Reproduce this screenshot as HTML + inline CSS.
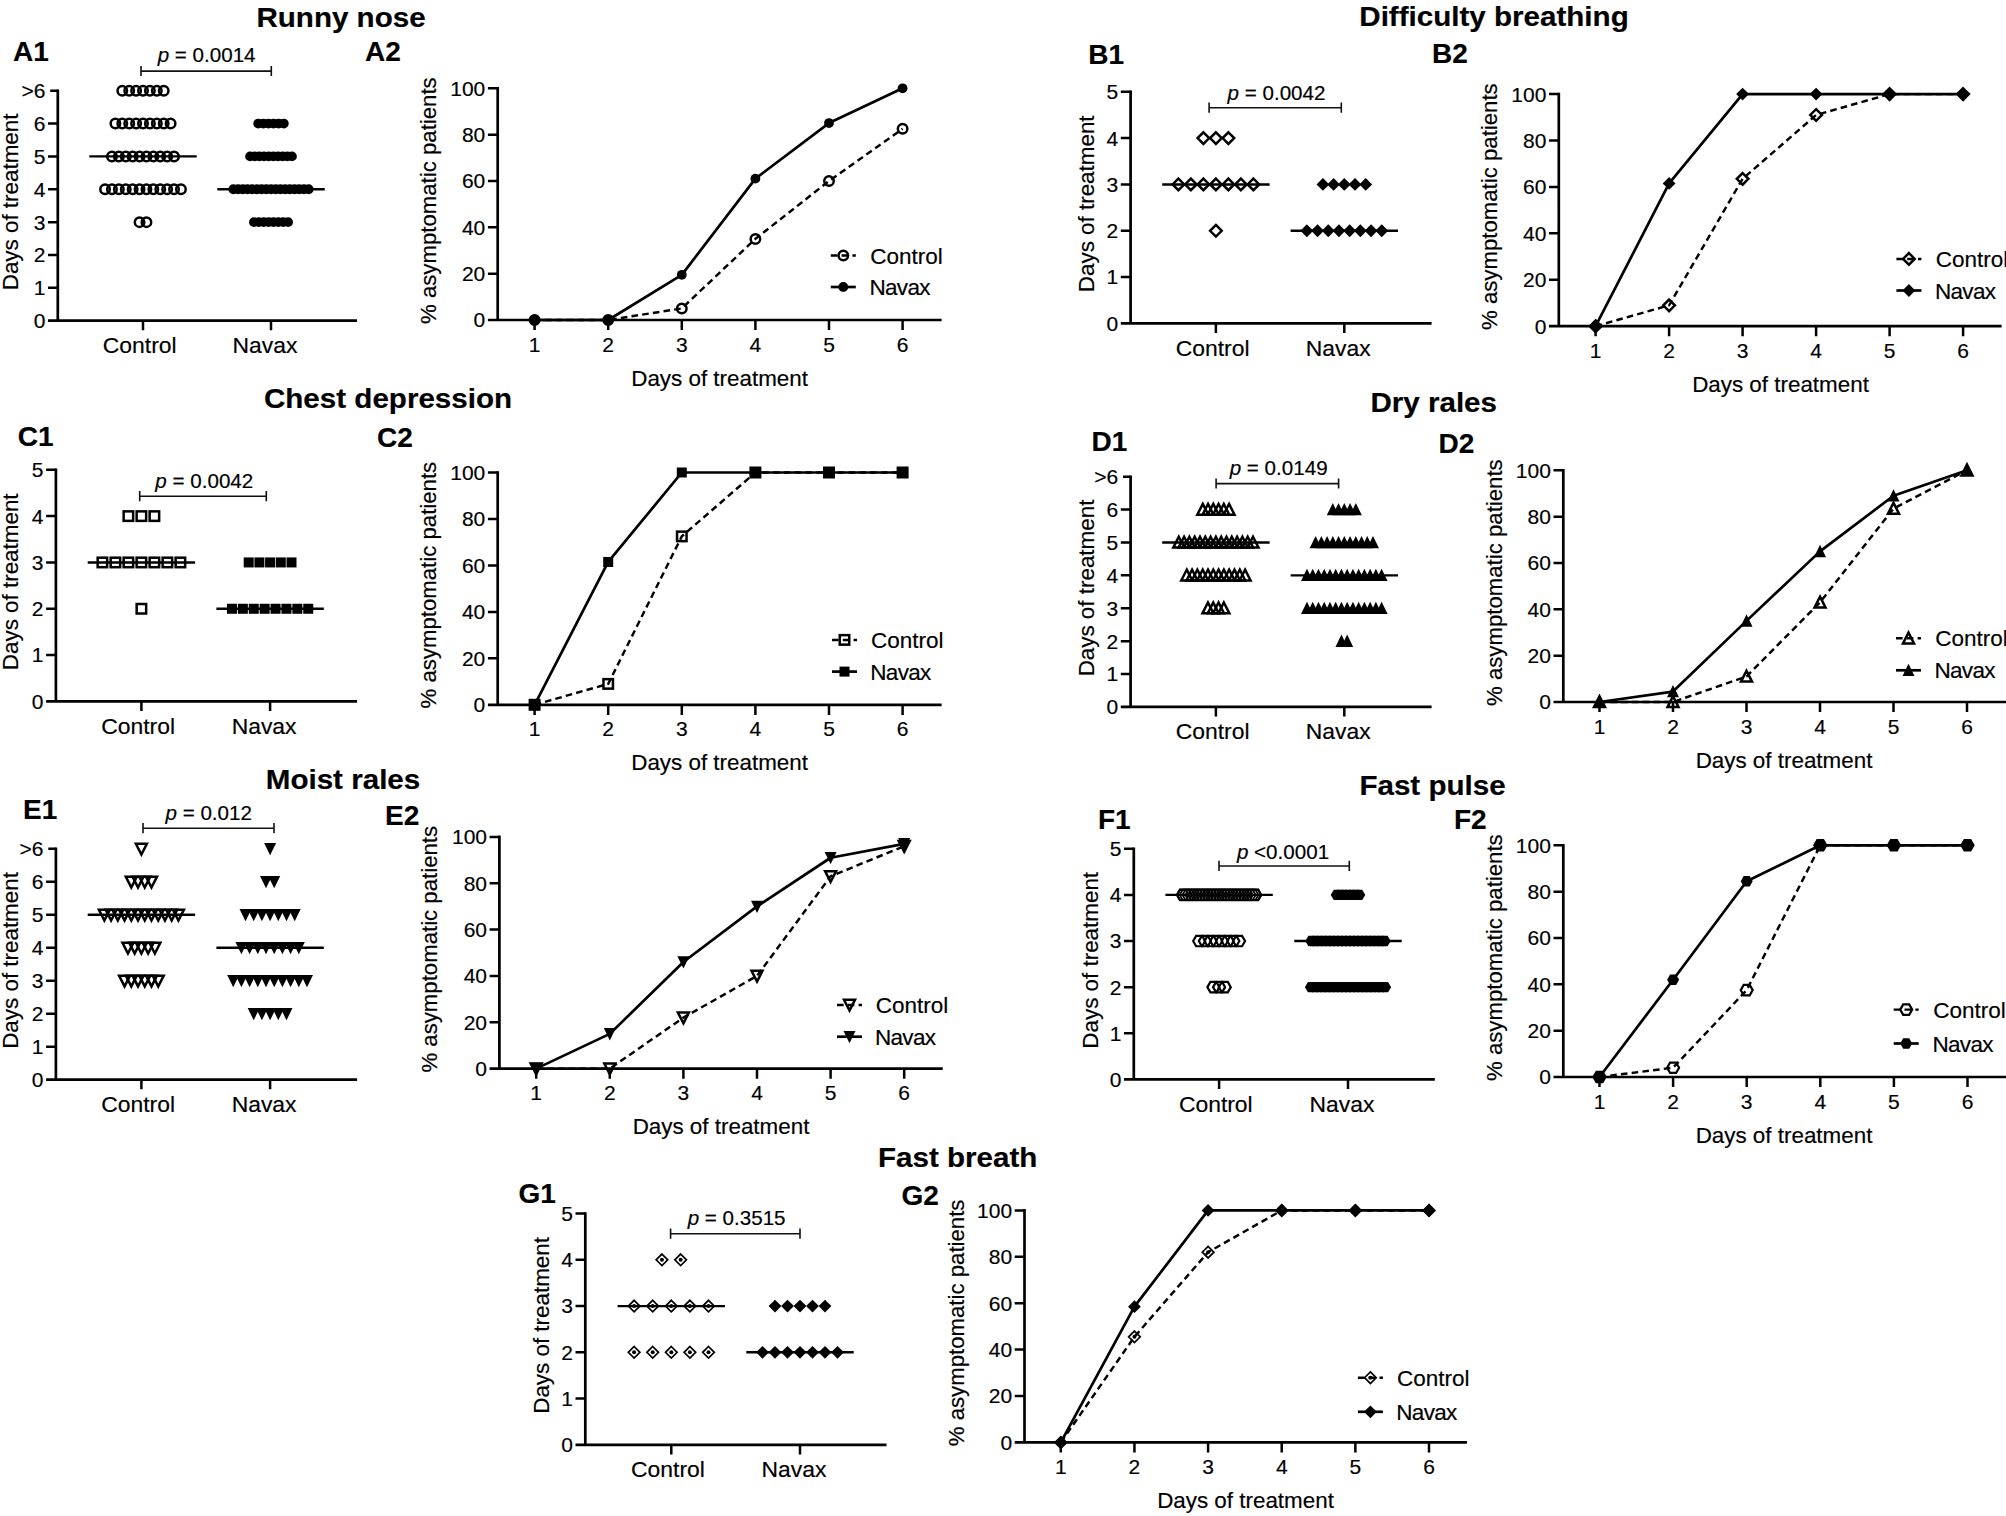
<!DOCTYPE html>
<html lang="en"><head><meta charset="utf-8"><title>Figure</title>
<style>
html,body{margin:0;padding:0;background:#fff}
body{width:2006px;height:1516px;overflow:hidden}
svg{display:block}
text{font-family:"Liberation Sans",sans-serif;fill:#000;stroke:#000;stroke-width:0.18px}
.tk{font-size:21px}
.lb{font-size:22.5px}
.cl{font-size:22.9px}
.at{font-size:22.4px}
.at2{font-size:22.2px}
.pv{font-size:20.6px}
.pl{font-size:28px;font-weight:bold}
.tt{font-size:28.5px;font-weight:bold}
.ax{stroke:#000;stroke-width:2.7;fill:none}
.tick{stroke:#000;stroke-width:2.5;fill:none}
.med{stroke:#000;stroke-width:2.4;fill:none}
.br{stroke:#111;stroke-width:1.6;fill:none}
.hm{fill:none;stroke:#000;stroke-width:2.5;stroke-miterlimit:10}
.hx{fill:none;stroke:#000;stroke-width:2.2;stroke-miterlimit:10}
.hx2{fill:none;stroke:#000;stroke-width:1.8;stroke-miterlimit:10}
.tm{fill:none;stroke:#000;stroke-width:1.7;stroke-miterlimit:10}
.fm{fill:#000;stroke:none}
.sl{fill:none;stroke:#000;stroke-width:2.7;stroke-linejoin:round}
.dl{fill:none;stroke:#000;stroke-width:2.45;stroke-dasharray:6.6 4.2}
</style></head>
<body>
<svg width="2006" height="1516" viewBox="0 0 2006 1516">
<rect width="2006" height="1516" fill="#fff"/>
<text class="tt" text-anchor="middle" transform="translate(341 27) scale(1.038 1)">Runny nose</text>
<g><path class="ax" d="M57.8 89.4V322 M48 320.7H357"/>
<text class="tk" text-anchor="end" x="45.4" y="328.1">0</text>
<text class="tk" text-anchor="end" x="45.4" y="295.24">1</text>
<text class="tk" text-anchor="end" x="45.4" y="262.39">2</text>
<text class="tk" text-anchor="end" x="45.4" y="229.53">3</text>
<text class="tk" text-anchor="end" x="45.4" y="196.67">4</text>
<text class="tk" text-anchor="end" x="45.4" y="163.81">5</text>
<text class="tk" text-anchor="end" x="45.4" y="130.96">6</text>
<text class="tk" text-anchor="end" x="45.4" y="98.1">&gt;6</text>
<path class="tick" d="M48 287.84H57.8M48 254.99H57.8M48 222.13H57.8M48 189.27H57.8M48 156.41H57.8M48 123.56H57.8M50.2 90.7H57.8"/>
<path class="tick" d="M143 320.7V330.3 M271 320.7V330.3"/>
<text class="cl" text-anchor="middle" x="139.7" y="352.8">Control</text>
<text class="cl" text-anchor="middle" x="265" y="352.8">Navax</text>
<text class="at" text-anchor="middle" transform="translate(18.3 201.9) rotate(-90)">Days of treatment</text>
<path class="med" d="M89.3 156.41H196.7"/>
<path class="med" d="M217.3 189.27H324.7"/>
<circle cx="122.3" cy="90.7" r="4.75" class="hm"/>
<circle cx="129.2" cy="90.7" r="4.75" class="hm"/>
<circle cx="136.1" cy="90.7" r="4.75" class="hm"/>
<circle cx="143" cy="90.7" r="4.75" class="hm"/>
<circle cx="149.9" cy="90.7" r="4.75" class="hm"/>
<circle cx="156.8" cy="90.7" r="4.75" class="hm"/>
<circle cx="163.7" cy="90.7" r="4.75" class="hm"/>
<circle cx="115.4" cy="123.56" r="4.75" class="hm"/>
<circle cx="122.3" cy="123.56" r="4.75" class="hm"/>
<circle cx="129.2" cy="123.56" r="4.75" class="hm"/>
<circle cx="136.1" cy="123.56" r="4.75" class="hm"/>
<circle cx="143" cy="123.56" r="4.75" class="hm"/>
<circle cx="149.9" cy="123.56" r="4.75" class="hm"/>
<circle cx="156.8" cy="123.56" r="4.75" class="hm"/>
<circle cx="163.7" cy="123.56" r="4.75" class="hm"/>
<circle cx="170.6" cy="123.56" r="4.75" class="hm"/>
<circle cx="111.95" cy="156.41" r="4.75" class="hm"/>
<circle cx="118.85" cy="156.41" r="4.75" class="hm"/>
<circle cx="125.75" cy="156.41" r="4.75" class="hm"/>
<circle cx="132.65" cy="156.41" r="4.75" class="hm"/>
<circle cx="139.55" cy="156.41" r="4.75" class="hm"/>
<circle cx="146.45" cy="156.41" r="4.75" class="hm"/>
<circle cx="153.35" cy="156.41" r="4.75" class="hm"/>
<circle cx="160.25" cy="156.41" r="4.75" class="hm"/>
<circle cx="167.15" cy="156.41" r="4.75" class="hm"/>
<circle cx="174.05" cy="156.41" r="4.75" class="hm"/>
<circle cx="105.05" cy="189.27" r="4.75" class="hm"/>
<circle cx="111.95" cy="189.27" r="4.75" class="hm"/>
<circle cx="118.85" cy="189.27" r="4.75" class="hm"/>
<circle cx="125.75" cy="189.27" r="4.75" class="hm"/>
<circle cx="132.65" cy="189.27" r="4.75" class="hm"/>
<circle cx="139.55" cy="189.27" r="4.75" class="hm"/>
<circle cx="146.45" cy="189.27" r="4.75" class="hm"/>
<circle cx="153.35" cy="189.27" r="4.75" class="hm"/>
<circle cx="160.25" cy="189.27" r="4.75" class="hm"/>
<circle cx="167.15" cy="189.27" r="4.75" class="hm"/>
<circle cx="174.05" cy="189.27" r="4.75" class="hm"/>
<circle cx="180.95" cy="189.27" r="4.75" class="hm"/>
<circle cx="139.55" cy="222.13" r="4.75" class="hm"/>
<circle cx="146.45" cy="222.13" r="4.75" class="hm"/>
<circle cx="258.2" cy="123.56" r="4.9" class="fm"/>
<circle cx="263.32" cy="123.56" r="4.9" class="fm"/>
<circle cx="268.44" cy="123.56" r="4.9" class="fm"/>
<circle cx="273.56" cy="123.56" r="4.9" class="fm"/>
<circle cx="278.68" cy="123.56" r="4.9" class="fm"/>
<circle cx="283.8" cy="123.56" r="4.9" class="fm"/>
<circle cx="250.07" cy="156.41" r="4.9" class="fm"/>
<circle cx="254.72" cy="156.41" r="4.9" class="fm"/>
<circle cx="259.38" cy="156.41" r="4.9" class="fm"/>
<circle cx="264.02" cy="156.41" r="4.9" class="fm"/>
<circle cx="268.68" cy="156.41" r="4.9" class="fm"/>
<circle cx="273.32" cy="156.41" r="4.9" class="fm"/>
<circle cx="277.98" cy="156.41" r="4.9" class="fm"/>
<circle cx="282.62" cy="156.41" r="4.9" class="fm"/>
<circle cx="287.27" cy="156.41" r="4.9" class="fm"/>
<circle cx="291.93" cy="156.41" r="4.9" class="fm"/>
<circle cx="233.32" cy="189.27" r="4.9" class="fm"/>
<circle cx="238.03" cy="189.27" r="4.9" class="fm"/>
<circle cx="242.74" cy="189.27" r="4.9" class="fm"/>
<circle cx="247.45" cy="189.27" r="4.9" class="fm"/>
<circle cx="252.16" cy="189.27" r="4.9" class="fm"/>
<circle cx="256.87" cy="189.27" r="4.9" class="fm"/>
<circle cx="261.58" cy="189.27" r="4.9" class="fm"/>
<circle cx="266.29" cy="189.27" r="4.9" class="fm"/>
<circle cx="271" cy="189.27" r="4.9" class="fm"/>
<circle cx="275.71" cy="189.27" r="4.9" class="fm"/>
<circle cx="280.42" cy="189.27" r="4.9" class="fm"/>
<circle cx="285.13" cy="189.27" r="4.9" class="fm"/>
<circle cx="289.84" cy="189.27" r="4.9" class="fm"/>
<circle cx="294.55" cy="189.27" r="4.9" class="fm"/>
<circle cx="299.26" cy="189.27" r="4.9" class="fm"/>
<circle cx="303.97" cy="189.27" r="4.9" class="fm"/>
<circle cx="308.68" cy="189.27" r="4.9" class="fm"/>
<circle cx="253.92" cy="222.13" r="4.9" class="fm"/>
<circle cx="258.8" cy="222.13" r="4.9" class="fm"/>
<circle cx="263.68" cy="222.13" r="4.9" class="fm"/>
<circle cx="268.56" cy="222.13" r="4.9" class="fm"/>
<circle cx="273.44" cy="222.13" r="4.9" class="fm"/>
<circle cx="278.32" cy="222.13" r="4.9" class="fm"/>
<circle cx="283.2" cy="222.13" r="4.9" class="fm"/>
<circle cx="288.08" cy="222.13" r="4.9" class="fm"/>
<path class="br" d="M141 71.1H271.3 M141 65.9V76.1 M271.3 65.9V76.1"/>
<text class="pv" text-anchor="middle" x="206.6" y="62.3"><tspan font-style="italic">p</tspan> = 0.0014</text>
<text class="pl" x="13" y="60.5">A1</text></g>
<g><path class="ax" d="M497.7 87V321.3 M487.9 320H941.6"/>
<text class="tk" text-anchor="end" x="485.3" y="327.4">0</text>
<text class="tk" text-anchor="end" x="485.3" y="281.06">20</text>
<text class="tk" text-anchor="end" x="485.3" y="234.72">40</text>
<text class="tk" text-anchor="end" x="485.3" y="188.38">60</text>
<text class="tk" text-anchor="end" x="485.3" y="142.04">80</text>
<text class="tk" text-anchor="end" x="485.3" y="95.7">100</text>
<text class="tk" text-anchor="middle" x="534.6" y="351.5">1</text>
<text class="tk" text-anchor="middle" x="608.2" y="351.5">2</text>
<text class="tk" text-anchor="middle" x="681.8" y="351.5">3</text>
<text class="tk" text-anchor="middle" x="755.4" y="351.5">4</text>
<text class="tk" text-anchor="middle" x="829" y="351.5">5</text>
<text class="tk" text-anchor="middle" x="902.6" y="351.5">6</text>
<path class="tick" d="M487.9 273.66H497.7M487.9 227.32H497.7M487.9 180.98H497.7M487.9 134.64H497.7M487.9 88.3H497.7M534.6 320V330.1M608.2 320V330.1M681.8 320V330.1M755.4 320V330.1M829 320V330.1M902.6 320V330.1"/>
<text class="at" text-anchor="middle" x="719.6" y="385.5">Days of treatment</text>
<text class="at2" text-anchor="middle" transform="translate(436.3 200.65) rotate(-90)">% asymptomatic patients</text>
<polyline class="dl" points="534.6,320 608.2,320 681.8,308.42 755.4,238.91 829,180.98 902.6,128.85"/>
<polyline class="sl" points="534.6,320 608.2,320 681.8,274.82 755.4,178.66 829,123.06 902.6,88.3"/>
<circle cx="534.6" cy="320" r="4.75" class="hm"/>
<circle cx="608.2" cy="320" r="4.75" class="hm"/>
<circle cx="681.8" cy="308.42" r="4.75" class="hm"/>
<circle cx="755.4" cy="238.91" r="4.75" class="hm"/>
<circle cx="829" cy="180.98" r="4.75" class="hm"/>
<circle cx="902.6" cy="128.85" r="4.75" class="hm"/>
<circle cx="534.6" cy="320" r="4.9" class="fm"/>
<circle cx="608.2" cy="320" r="4.9" class="fm"/>
<circle cx="681.8" cy="274.82" r="4.9" class="fm"/>
<circle cx="755.4" cy="178.66" r="4.9" class="fm"/>
<circle cx="829" cy="123.06" r="4.9" class="fm"/>
<circle cx="902.6" cy="88.3" r="4.9" class="fm"/>
<path class="dl" d="M830.8 255.5H855.8"/>
<path class="sl" d="M830.8 287H855.8"/>
<circle cx="843.3" cy="255.5" r="4.75" class="hm"/>
<circle cx="843.3" cy="287" r="4.9" class="fm"/>
<text class="lb" x="870.2" y="263.6">Control</text>
<text class="lb" letter-spacing="-0.7" x="869.5" y="295.1">Navax</text>
<text class="pl" x="365" y="60.5">A2</text></g>
<text class="tt" text-anchor="middle" transform="translate(1494 25.8) scale(1.038 1)">Difficulty breathing</text>
<g><path class="ax" d="M1130.6 90.5V324.7 M1120.8 323.4H1431.6"/>
<text class="tk" text-anchor="end" x="1118.2" y="330.8">0</text>
<text class="tk" text-anchor="end" x="1118.2" y="284.48">1</text>
<text class="tk" text-anchor="end" x="1118.2" y="238.16">2</text>
<text class="tk" text-anchor="end" x="1118.2" y="191.84">3</text>
<text class="tk" text-anchor="end" x="1118.2" y="145.52">4</text>
<text class="tk" text-anchor="end" x="1118.2" y="99.2">5</text>
<path class="tick" d="M1120.8 277.08H1130.6M1120.8 230.76H1130.6M1120.8 184.44H1130.6M1120.8 138.12H1130.6M1120.8 91.8H1130.6"/>
<path class="tick" d="M1215.9 323.4V333 M1344.3 323.4V333"/>
<text class="cl" text-anchor="middle" x="1212.6" y="355.5">Control</text>
<text class="cl" text-anchor="middle" x="1338.3" y="355.5">Navax</text>
<text class="at" text-anchor="middle" transform="translate(1094 203.8) rotate(-90)">Days of treatment</text>
<path class="med" d="M1162.2 184.44H1269.6"/>
<path class="med" d="M1290.6 230.76H1398"/>
<polygon points="1203.4,132.32 1209.2,138.12 1203.4,143.92 1197.6,138.12" class="hm"/>
<polygon points="1215.9,132.32 1221.7,138.12 1215.9,143.92 1210.1,138.12" class="hm"/>
<polygon points="1228.4,132.32 1234.2,138.12 1228.4,143.92 1222.6,138.12" class="hm"/>
<polygon points="1178.4,178.64 1184.2,184.44 1178.4,190.24 1172.6,184.44" class="hm"/>
<polygon points="1190.9,178.64 1196.7,184.44 1190.9,190.24 1185.1,184.44" class="hm"/>
<polygon points="1203.4,178.64 1209.2,184.44 1203.4,190.24 1197.6,184.44" class="hm"/>
<polygon points="1215.9,178.64 1221.7,184.44 1215.9,190.24 1210.1,184.44" class="hm"/>
<polygon points="1228.4,178.64 1234.2,184.44 1228.4,190.24 1222.6,184.44" class="hm"/>
<polygon points="1240.9,178.64 1246.7,184.44 1240.9,190.24 1235.1,184.44" class="hm"/>
<polygon points="1253.4,178.64 1259.2,184.44 1253.4,190.24 1247.6,184.44" class="hm"/>
<polygon points="1215.9,224.96 1221.7,230.76 1215.9,236.56 1210.1,230.76" class="hm"/>
<polygon points="1322.9,178.04 1329.3,184.44 1322.9,190.84 1316.5,184.44" class="fm"/>
<polygon points="1333.6,178.04 1340,184.44 1333.6,190.84 1327.2,184.44" class="fm"/>
<polygon points="1344.3,178.04 1350.7,184.44 1344.3,190.84 1337.9,184.44" class="fm"/>
<polygon points="1355,178.04 1361.4,184.44 1355,190.84 1348.6,184.44" class="fm"/>
<polygon points="1365.7,178.04 1372.1,184.44 1365.7,190.84 1359.3,184.44" class="fm"/>
<polygon points="1306.85,224.36 1313.25,230.76 1306.85,237.16 1300.45,230.76" class="fm"/>
<polygon points="1317.55,224.36 1323.95,230.76 1317.55,237.16 1311.15,230.76" class="fm"/>
<polygon points="1328.25,224.36 1334.65,230.76 1328.25,237.16 1321.85,230.76" class="fm"/>
<polygon points="1338.95,224.36 1345.35,230.76 1338.95,237.16 1332.55,230.76" class="fm"/>
<polygon points="1349.65,224.36 1356.05,230.76 1349.65,237.16 1343.25,230.76" class="fm"/>
<polygon points="1360.35,224.36 1366.75,230.76 1360.35,237.16 1353.95,230.76" class="fm"/>
<polygon points="1371.05,224.36 1377.45,230.76 1371.05,237.16 1364.65,230.76" class="fm"/>
<polygon points="1381.75,224.36 1388.15,230.76 1381.75,237.16 1375.35,230.76" class="fm"/>
<path class="br" d="M1209.1 107.7H1341.3 M1209.1 102.5V112.7 M1341.3 102.5V112.7"/>
<text class="pv" text-anchor="middle" x="1276.5" y="99.8"><tspan font-style="italic">p</tspan> = 0.0042</text>
<text class="pl" x="1088.3" y="64.2">B1</text></g>
<g><path class="ax" d="M1558.8 92.8V327.5 M1549 326.2H2001.6"/>
<text class="tk" text-anchor="end" x="1546.4" y="333.6">0</text>
<text class="tk" text-anchor="end" x="1546.4" y="287.18">20</text>
<text class="tk" text-anchor="end" x="1546.4" y="240.76">40</text>
<text class="tk" text-anchor="end" x="1546.4" y="194.34">60</text>
<text class="tk" text-anchor="end" x="1546.4" y="147.92">80</text>
<text class="tk" text-anchor="end" x="1546.4" y="101.5">100</text>
<text class="tk" text-anchor="middle" x="1595.6" y="357.7">1</text>
<text class="tk" text-anchor="middle" x="1669.1" y="357.7">2</text>
<text class="tk" text-anchor="middle" x="1742.6" y="357.7">3</text>
<text class="tk" text-anchor="middle" x="1816.1" y="357.7">4</text>
<text class="tk" text-anchor="middle" x="1889.6" y="357.7">5</text>
<text class="tk" text-anchor="middle" x="1963.1" y="357.7">6</text>
<path class="tick" d="M1549 279.78H1558.8M1549 233.36H1558.8M1549 186.94H1558.8M1549 140.52H1558.8M1549 94.1H1558.8M1595.6 326.2V336.3M1669.1 326.2V336.3M1742.6 326.2V336.3M1816.1 326.2V336.3M1889.6 326.2V336.3M1963.1 326.2V336.3"/>
<text class="at" text-anchor="middle" x="1780.5" y="391.7">Days of treatment</text>
<text class="at2" text-anchor="middle" transform="translate(1497 206.65) rotate(-90)">% asymptomatic patients</text>
<polyline class="dl" points="1595.6,326.2 1669.1,305.31 1742.6,178.82 1816.1,114.99 1889.6,94.1 1963.1,94.1"/>
<polyline class="sl" points="1595.6,326.2 1669.1,183.46 1742.6,94.1 1816.1,94.1 1889.6,94.1 1963.1,94.1"/>
<polygon points="1595.6,320.4 1601.4,326.2 1595.6,332 1589.8,326.2" class="hm"/>
<polygon points="1669.1,299.51 1674.9,305.31 1669.1,311.11 1663.3,305.31" class="hm"/>
<polygon points="1742.6,173.02 1748.4,178.82 1742.6,184.62 1736.8,178.82" class="hm"/>
<polygon points="1816.1,109.19 1821.9,114.99 1816.1,120.79 1810.3,114.99" class="hm"/>
<polygon points="1889.6,88.3 1895.4,94.1 1889.6,99.9 1883.8,94.1" class="hm"/>
<polygon points="1963.1,88.3 1968.9,94.1 1963.1,99.9 1957.3,94.1" class="hm"/>
<polygon points="1595.6,319.8 1602,326.2 1595.6,332.6 1589.2,326.2" class="fm"/>
<polygon points="1669.1,177.06 1675.5,183.46 1669.1,189.86 1662.7,183.46" class="fm"/>
<polygon points="1742.6,87.7 1749,94.1 1742.6,100.5 1736.2,94.1" class="fm"/>
<polygon points="1816.1,87.7 1822.5,94.1 1816.1,100.5 1809.7,94.1" class="fm"/>
<polygon points="1889.6,87.7 1896,94.1 1889.6,100.5 1883.2,94.1" class="fm"/>
<polygon points="1963.1,87.7 1969.5,94.1 1963.1,100.5 1956.7,94.1" class="fm"/>
<path class="dl" d="M1896.4 258.9H1921.4"/>
<path class="sl" d="M1896.4 290.5H1921.4"/>
<polygon points="1908.9,253.1 1914.7,258.9 1908.9,264.7 1903.1,258.9" class="hm"/>
<polygon points="1908.9,284.1 1915.3,290.5 1908.9,296.9 1902.5,290.5" class="fm"/>
<text class="lb" x="1935.7" y="267">Control</text>
<text class="lb" letter-spacing="-0.7" x="1935" y="298.6">Navax</text>
<text class="pl" x="1432" y="63">B2</text></g>
<text class="tt" text-anchor="middle" transform="translate(388 408) scale(1.038 1)">Chest depression</text>
<g><path class="ax" d="M55.9 468.5V702.7 M46.1 701.4H357.1"/>
<text class="tk" text-anchor="end" x="43.5" y="708.8">0</text>
<text class="tk" text-anchor="end" x="43.5" y="662.48">1</text>
<text class="tk" text-anchor="end" x="43.5" y="616.16">2</text>
<text class="tk" text-anchor="end" x="43.5" y="569.84">3</text>
<text class="tk" text-anchor="end" x="43.5" y="523.52">4</text>
<text class="tk" text-anchor="end" x="43.5" y="477.2">5</text>
<path class="tick" d="M46.1 655.08H55.9M46.1 608.76H55.9M46.1 562.44H55.9M46.1 516.12H55.9M46.1 469.8H55.9"/>
<path class="tick" d="M141.4 701.4V711 M270.1 701.4V711"/>
<text class="cl" text-anchor="middle" x="138.1" y="733.5">Control</text>
<text class="cl" text-anchor="middle" x="264.1" y="733.5">Navax</text>
<text class="at" text-anchor="middle" transform="translate(18.3 581.8) rotate(-90)">Days of treatment</text>
<path class="med" d="M87.7 562.44H195.1"/>
<path class="med" d="M216.4 608.76H323.8"/>
<rect x="123.65" y="511.37" width="9.5" height="9.5" class="hm"/>
<rect x="136.65" y="511.37" width="9.5" height="9.5" class="hm"/>
<rect x="149.65" y="511.37" width="9.5" height="9.5" class="hm"/>
<rect x="97.65" y="557.69" width="9.5" height="9.5" class="hm"/>
<rect x="110.65" y="557.69" width="9.5" height="9.5" class="hm"/>
<rect x="123.65" y="557.69" width="9.5" height="9.5" class="hm"/>
<rect x="136.65" y="557.69" width="9.5" height="9.5" class="hm"/>
<rect x="149.65" y="557.69" width="9.5" height="9.5" class="hm"/>
<rect x="162.65" y="557.69" width="9.5" height="9.5" class="hm"/>
<rect x="175.65" y="557.69" width="9.5" height="9.5" class="hm"/>
<rect x="136.65" y="604.01" width="9.5" height="9.5" class="hm"/>
<rect x="243.7" y="557.44" width="10" height="10" class="fm"/>
<rect x="254.4" y="557.44" width="10" height="10" class="fm"/>
<rect x="265.1" y="557.44" width="10" height="10" class="fm"/>
<rect x="275.8" y="557.44" width="10" height="10" class="fm"/>
<rect x="286.5" y="557.44" width="10" height="10" class="fm"/>
<rect x="226.95" y="603.76" width="10" height="10" class="fm"/>
<rect x="237.85" y="603.76" width="10" height="10" class="fm"/>
<rect x="248.75" y="603.76" width="10" height="10" class="fm"/>
<rect x="259.65" y="603.76" width="10" height="10" class="fm"/>
<rect x="270.55" y="603.76" width="10" height="10" class="fm"/>
<rect x="281.45" y="603.76" width="10" height="10" class="fm"/>
<rect x="292.35" y="603.76" width="10" height="10" class="fm"/>
<rect x="303.25" y="603.76" width="10" height="10" class="fm"/>
<path class="br" d="M139.7 496.2H266.3 M139.7 491V501.2 M266.3 491V501.2"/>
<text class="pv" text-anchor="middle" x="204.3" y="487.9"><tspan font-style="italic">p</tspan> = 0.0042</text>
<text class="pl" x="17.8" y="446">C1</text></g>
<g><path class="ax" d="M497.7 471.2V706.1 M487.9 704.8H941.6"/>
<text class="tk" text-anchor="end" x="485.3" y="712.2">0</text>
<text class="tk" text-anchor="end" x="485.3" y="665.74">20</text>
<text class="tk" text-anchor="end" x="485.3" y="619.28">40</text>
<text class="tk" text-anchor="end" x="485.3" y="572.82">60</text>
<text class="tk" text-anchor="end" x="485.3" y="526.36">80</text>
<text class="tk" text-anchor="end" x="485.3" y="479.9">100</text>
<text class="tk" text-anchor="middle" x="534.6" y="736.3">1</text>
<text class="tk" text-anchor="middle" x="608.2" y="736.3">2</text>
<text class="tk" text-anchor="middle" x="681.8" y="736.3">3</text>
<text class="tk" text-anchor="middle" x="755.4" y="736.3">4</text>
<text class="tk" text-anchor="middle" x="829" y="736.3">5</text>
<text class="tk" text-anchor="middle" x="902.6" y="736.3">6</text>
<path class="tick" d="M487.9 658.34H497.7M487.9 611.88H497.7M487.9 565.42H497.7M487.9 518.96H497.7M487.9 472.5H497.7M534.6 704.8V714.9M608.2 704.8V714.9M681.8 704.8V714.9M755.4 704.8V714.9M829 704.8V714.9M902.6 704.8V714.9"/>
<text class="at" text-anchor="middle" x="719.6" y="770.3">Days of treatment</text>
<text class="at2" text-anchor="middle" transform="translate(436.3 585.15) rotate(-90)">% asymptomatic patients</text>
<polyline class="dl" points="534.6,704.8 608.2,683.89 681.8,536.38 755.4,472.5 829,472.5 902.6,472.5"/>
<polyline class="sl" points="534.6,704.8 608.2,561.94 681.8,472.5 755.4,472.5 829,472.5 902.6,472.5"/>
<rect x="529.85" y="700.05" width="9.5" height="9.5" class="hm"/>
<rect x="603.45" y="679.14" width="9.5" height="9.5" class="hm"/>
<rect x="677.05" y="531.63" width="9.5" height="9.5" class="hm"/>
<rect x="750.65" y="467.75" width="9.5" height="9.5" class="hm"/>
<rect x="824.25" y="467.75" width="9.5" height="9.5" class="hm"/>
<rect x="897.85" y="467.75" width="9.5" height="9.5" class="hm"/>
<rect x="529.6" y="699.8" width="10" height="10" class="fm"/>
<rect x="603.2" y="556.94" width="10" height="10" class="fm"/>
<rect x="676.8" y="467.5" width="10" height="10" class="fm"/>
<rect x="750.4" y="467.5" width="10" height="10" class="fm"/>
<rect x="824" y="467.5" width="10" height="10" class="fm"/>
<rect x="897.6" y="467.5" width="10" height="10" class="fm"/>
<path class="dl" d="M832 639.9H857"/>
<path class="sl" d="M832 671.6H857"/>
<rect x="839.75" y="635.15" width="9.5" height="9.5" class="hm"/>
<rect x="839.5" y="666.6" width="10" height="10" class="fm"/>
<text class="lb" x="871" y="648">Control</text>
<text class="lb" letter-spacing="-0.7" x="870.3" y="679.7">Navax</text>
<text class="pl" x="377" y="447">C2</text></g>
<text class="tt" text-anchor="middle" transform="translate(1433.7 412.3) scale(1.038 1)">Dry rales</text>
<g><path class="ax" d="M1130.6 475.4V708.2 M1120.8 706.9H1431.6"/>
<text class="tk" text-anchor="end" x="1118.2" y="714.3">0</text>
<text class="tk" text-anchor="end" x="1118.2" y="681.41">1</text>
<text class="tk" text-anchor="end" x="1118.2" y="648.53">2</text>
<text class="tk" text-anchor="end" x="1118.2" y="615.64">3</text>
<text class="tk" text-anchor="end" x="1118.2" y="582.76">4</text>
<text class="tk" text-anchor="end" x="1118.2" y="549.87">5</text>
<text class="tk" text-anchor="end" x="1118.2" y="516.99">6</text>
<text class="tk" text-anchor="end" x="1118.2" y="484.1">&gt;6</text>
<path class="tick" d="M1120.8 674.01H1130.6M1120.8 641.13H1130.6M1120.8 608.24H1130.6M1120.8 575.36H1130.6M1120.8 542.47H1130.6M1120.8 509.59H1130.6M1123 476.7H1130.6"/>
<path class="tick" d="M1215.9 706.9V716.5 M1344.3 706.9V716.5"/>
<text class="cl" text-anchor="middle" x="1212.6" y="739">Control</text>
<text class="cl" text-anchor="middle" x="1338.3" y="739">Navax</text>
<text class="at" text-anchor="middle" transform="translate(1094 588) rotate(-90)">Days of treatment</text>
<path class="med" d="M1162.2 542.47H1269.6"/>
<path class="med" d="M1290.6 575.36H1398"/>
<polygon points="1202.78,503.89 1208.28,514.69 1197.28,514.69" class="hm"/>
<polygon points="1208.03,503.89 1213.53,514.69 1202.53,514.69" class="hm"/>
<polygon points="1213.28,503.89 1218.78,514.69 1207.78,514.69" class="hm"/>
<polygon points="1218.53,503.89 1224.03,514.69 1213.03,514.69" class="hm"/>
<polygon points="1223.78,503.89 1229.28,514.69 1218.28,514.69" class="hm"/>
<polygon points="1229.03,503.89 1234.53,514.69 1223.53,514.69" class="hm"/>
<polygon points="1178.8,536.77 1184.3,547.57 1173.3,547.57" class="hm"/>
<polygon points="1184.1,536.77 1189.6,547.57 1178.6,547.57" class="hm"/>
<polygon points="1189.4,536.77 1194.9,547.57 1183.9,547.57" class="hm"/>
<polygon points="1194.7,536.77 1200.2,547.57 1189.2,547.57" class="hm"/>
<polygon points="1200,536.77 1205.5,547.57 1194.5,547.57" class="hm"/>
<polygon points="1205.3,536.77 1210.8,547.57 1199.8,547.57" class="hm"/>
<polygon points="1210.6,536.77 1216.1,547.57 1205.1,547.57" class="hm"/>
<polygon points="1215.9,536.77 1221.4,547.57 1210.4,547.57" class="hm"/>
<polygon points="1221.2,536.77 1226.7,547.57 1215.7,547.57" class="hm"/>
<polygon points="1226.5,536.77 1232,547.57 1221,547.57" class="hm"/>
<polygon points="1231.8,536.77 1237.3,547.57 1226.3,547.57" class="hm"/>
<polygon points="1237.1,536.77 1242.6,547.57 1231.6,547.57" class="hm"/>
<polygon points="1242.4,536.77 1247.9,547.57 1236.9,547.57" class="hm"/>
<polygon points="1247.7,536.77 1253.2,547.57 1242.2,547.57" class="hm"/>
<polygon points="1253,536.77 1258.5,547.57 1247.5,547.57" class="hm"/>
<polygon points="1186.75,569.66 1192.25,580.46 1181.25,580.46" class="hm"/>
<polygon points="1192.05,569.66 1197.55,580.46 1186.55,580.46" class="hm"/>
<polygon points="1197.35,569.66 1202.85,580.46 1191.85,580.46" class="hm"/>
<polygon points="1202.65,569.66 1208.15,580.46 1197.15,580.46" class="hm"/>
<polygon points="1207.95,569.66 1213.45,580.46 1202.45,580.46" class="hm"/>
<polygon points="1213.25,569.66 1218.75,580.46 1207.75,580.46" class="hm"/>
<polygon points="1218.55,569.66 1224.05,580.46 1213.05,580.46" class="hm"/>
<polygon points="1223.85,569.66 1229.35,580.46 1218.35,580.46" class="hm"/>
<polygon points="1229.15,569.66 1234.65,580.46 1223.65,580.46" class="hm"/>
<polygon points="1234.45,569.66 1239.95,580.46 1228.95,580.46" class="hm"/>
<polygon points="1239.75,569.66 1245.25,580.46 1234.25,580.46" class="hm"/>
<polygon points="1245.05,569.66 1250.55,580.46 1239.55,580.46" class="hm"/>
<polygon points="1207.95,602.54 1213.45,613.34 1202.45,613.34" class="hm"/>
<polygon points="1213.25,602.54 1218.75,613.34 1207.75,613.34" class="hm"/>
<polygon points="1218.55,602.54 1224.05,613.34 1213.05,613.34" class="hm"/>
<polygon points="1223.85,602.54 1229.35,613.34 1218.35,613.34" class="hm"/>
<polygon points="1332.76,503.04 1338.76,515.34 1326.76,515.34" class="fm"/>
<polygon points="1338.53,503.04 1344.53,515.34 1332.53,515.34" class="fm"/>
<polygon points="1344.3,503.04 1350.3,515.34 1338.3,515.34" class="fm"/>
<polygon points="1350.07,503.04 1356.07,515.34 1344.07,515.34" class="fm"/>
<polygon points="1355.84,503.04 1361.84,515.34 1349.84,515.34" class="fm"/>
<polygon points="1315.6,535.92 1321.6,548.22 1309.6,548.22" class="fm"/>
<polygon points="1321.34,535.92 1327.34,548.22 1315.34,548.22" class="fm"/>
<polygon points="1327.08,535.92 1333.08,548.22 1321.08,548.22" class="fm"/>
<polygon points="1332.82,535.92 1338.82,548.22 1326.82,548.22" class="fm"/>
<polygon points="1338.56,535.92 1344.56,548.22 1332.56,548.22" class="fm"/>
<polygon points="1344.3,535.92 1350.3,548.22 1338.3,548.22" class="fm"/>
<polygon points="1350.04,535.92 1356.04,548.22 1344.04,548.22" class="fm"/>
<polygon points="1355.78,535.92 1361.78,548.22 1349.78,548.22" class="fm"/>
<polygon points="1361.52,535.92 1367.52,548.22 1355.52,548.22" class="fm"/>
<polygon points="1367.26,535.92 1373.26,548.22 1361.26,548.22" class="fm"/>
<polygon points="1373,535.92 1379,548.22 1367,548.22" class="fm"/>
<polygon points="1306.99,568.81 1312.99,581.11 1300.99,581.11" class="fm"/>
<polygon points="1312.73,568.81 1318.73,581.11 1306.73,581.11" class="fm"/>
<polygon points="1318.47,568.81 1324.47,581.11 1312.47,581.11" class="fm"/>
<polygon points="1324.21,568.81 1330.21,581.11 1318.21,581.11" class="fm"/>
<polygon points="1329.95,568.81 1335.95,581.11 1323.95,581.11" class="fm"/>
<polygon points="1335.69,568.81 1341.69,581.11 1329.69,581.11" class="fm"/>
<polygon points="1341.43,568.81 1347.43,581.11 1335.43,581.11" class="fm"/>
<polygon points="1347.17,568.81 1353.17,581.11 1341.17,581.11" class="fm"/>
<polygon points="1352.91,568.81 1358.91,581.11 1346.91,581.11" class="fm"/>
<polygon points="1358.65,568.81 1364.65,581.11 1352.65,581.11" class="fm"/>
<polygon points="1364.39,568.81 1370.39,581.11 1358.39,581.11" class="fm"/>
<polygon points="1370.13,568.81 1376.13,581.11 1364.13,581.11" class="fm"/>
<polygon points="1375.87,568.81 1381.87,581.11 1369.87,581.11" class="fm"/>
<polygon points="1381.61,568.81 1387.61,581.11 1375.61,581.11" class="fm"/>
<polygon points="1306.99,601.69 1312.99,613.99 1300.99,613.99" class="fm"/>
<polygon points="1312.73,601.69 1318.73,613.99 1306.73,613.99" class="fm"/>
<polygon points="1318.47,601.69 1324.47,613.99 1312.47,613.99" class="fm"/>
<polygon points="1324.21,601.69 1330.21,613.99 1318.21,613.99" class="fm"/>
<polygon points="1329.95,601.69 1335.95,613.99 1323.95,613.99" class="fm"/>
<polygon points="1335.69,601.69 1341.69,613.99 1329.69,613.99" class="fm"/>
<polygon points="1341.43,601.69 1347.43,613.99 1335.43,613.99" class="fm"/>
<polygon points="1347.17,601.69 1353.17,613.99 1341.17,613.99" class="fm"/>
<polygon points="1352.91,601.69 1358.91,613.99 1346.91,613.99" class="fm"/>
<polygon points="1358.65,601.69 1364.65,613.99 1352.65,613.99" class="fm"/>
<polygon points="1364.39,601.69 1370.39,613.99 1358.39,613.99" class="fm"/>
<polygon points="1370.13,601.69 1376.13,613.99 1364.13,613.99" class="fm"/>
<polygon points="1375.87,601.69 1381.87,613.99 1369.87,613.99" class="fm"/>
<polygon points="1381.61,601.69 1387.61,613.99 1375.61,613.99" class="fm"/>
<polygon points="1341.43,634.58 1347.43,646.88 1335.43,646.88" class="fm"/>
<polygon points="1347.17,634.58 1353.17,646.88 1341.17,646.88" class="fm"/>
<path class="br" d="M1216.1 483.6H1338.6 M1216.1 478.4V488.6 M1338.6 478.4V488.6"/>
<text class="pv" text-anchor="middle" x="1278.65" y="475"><tspan font-style="italic">p</tspan> = 0.0149</text>
<text class="pl" x="1091.5" y="450.7">D1</text></g>
<g><path class="ax" d="M1563.3 469V703.3 M1553.5 702H2008"/>
<text class="tk" text-anchor="end" x="1550.9" y="709.4">0</text>
<text class="tk" text-anchor="end" x="1550.9" y="663.06">20</text>
<text class="tk" text-anchor="end" x="1550.9" y="616.72">40</text>
<text class="tk" text-anchor="end" x="1550.9" y="570.38">60</text>
<text class="tk" text-anchor="end" x="1550.9" y="524.04">80</text>
<text class="tk" text-anchor="end" x="1550.9" y="477.7">100</text>
<text class="tk" text-anchor="middle" x="1599.5" y="733.5">1</text>
<text class="tk" text-anchor="middle" x="1673" y="733.5">2</text>
<text class="tk" text-anchor="middle" x="1746.5" y="733.5">3</text>
<text class="tk" text-anchor="middle" x="1820" y="733.5">4</text>
<text class="tk" text-anchor="middle" x="1893.5" y="733.5">5</text>
<text class="tk" text-anchor="middle" x="1967" y="733.5">6</text>
<path class="tick" d="M1553.5 655.66H1563.3M1553.5 609.32H1563.3M1553.5 562.98H1563.3M1553.5 516.64H1563.3M1553.5 470.3H1563.3M1599.5 702V712.1M1673 702V712.1M1746.5 702V712.1M1820 702V712.1M1893.5 702V712.1M1967 702V712.1"/>
<text class="at" text-anchor="middle" x="1784" y="767.5">Days of treatment</text>
<text class="at2" text-anchor="middle" transform="translate(1502 582.65) rotate(-90)">% asymptomatic patients</text>
<polyline class="dl" points="1599.5,702 1673,702 1746.5,676.51 1820,602.37 1893.5,508.53 1967,470.3"/>
<polyline class="sl" points="1599.5,702 1673,691.57 1746.5,620.9 1820,551.39 1893.5,495.79 1967,470.3"/>
<polygon points="1599.5,696.3 1605,707.1 1594,707.1" class="hm"/>
<polygon points="1673,696.3 1678.5,707.1 1667.5,707.1" class="hm"/>
<polygon points="1746.5,670.81 1752,681.61 1741,681.61" class="hm"/>
<polygon points="1820,596.67 1825.5,607.47 1814.5,607.47" class="hm"/>
<polygon points="1893.5,502.83 1899,513.63 1888,513.63" class="hm"/>
<polygon points="1967,464.6 1972.5,475.4 1961.5,475.4" class="hm"/>
<polygon points="1599.5,695.45 1605.5,707.75 1593.5,707.75" class="fm"/>
<polygon points="1673,685.02 1679,697.32 1667,697.32" class="fm"/>
<polygon points="1746.5,614.36 1752.5,626.65 1740.5,626.65" class="fm"/>
<polygon points="1820,544.85 1826,557.14 1814,557.14" class="fm"/>
<polygon points="1893.5,489.24 1899.5,501.54 1887.5,501.54" class="fm"/>
<polygon points="1967,463.75 1973,476.05 1961,476.05" class="fm"/>
<path class="dl" d="M1896 638.3H1921"/>
<path class="sl" d="M1896 670.3H1921"/>
<polygon points="1908.5,632.6 1914,643.4 1903,643.4" class="hm"/>
<polygon points="1908.5,663.75 1914.5,676.05 1902.5,676.05" class="fm"/>
<text class="lb" x="1935.2" y="646.4">Control</text>
<text class="lb" letter-spacing="-0.7" x="1934.5" y="678.4">Navax</text>
<text class="pl" x="1438.5" y="452.9">D2</text></g>
<text class="tt" text-anchor="middle" transform="translate(343 788.5) scale(1.038 1)">Moist rales</text>
<g><path class="ax" d="M55.9 847.5V1081 M46.1 1079.7H357.1"/>
<text class="tk" text-anchor="end" x="43.5" y="1087.1">0</text>
<text class="tk" text-anchor="end" x="43.5" y="1054.11">1</text>
<text class="tk" text-anchor="end" x="43.5" y="1021.13">2</text>
<text class="tk" text-anchor="end" x="43.5" y="988.14">3</text>
<text class="tk" text-anchor="end" x="43.5" y="955.16">4</text>
<text class="tk" text-anchor="end" x="43.5" y="922.17">5</text>
<text class="tk" text-anchor="end" x="43.5" y="889.19">6</text>
<text class="tk" text-anchor="end" x="43.5" y="856.2">&gt;6</text>
<path class="tick" d="M46.1 1046.71H55.9M46.1 1013.73H55.9M46.1 980.74H55.9M46.1 947.76H55.9M46.1 914.77H55.9M46.1 881.79H55.9M48.3 848.8H55.9"/>
<path class="tick" d="M141.4 1079.7V1089.3 M270.1 1079.7V1089.3"/>
<text class="cl" text-anchor="middle" x="138.1" y="1111.8">Control</text>
<text class="cl" text-anchor="middle" x="264.1" y="1111.8">Navax</text>
<text class="at" text-anchor="middle" transform="translate(18.3 960.45) rotate(-90)">Days of treatment</text>
<path class="med" d="M87.7 914.77H195.1"/>
<path class="med" d="M216.4 947.76H323.8"/>
<polygon points="141.4,854.5 146.9,843.7 135.9,843.7" class="hm"/>
<polygon points="131.31,887.49 136.81,876.69 125.81,876.69" class="hm"/>
<polygon points="138.03,887.49 143.53,876.69 132.53,876.69" class="hm"/>
<polygon points="144.77,887.49 150.27,876.69 139.27,876.69" class="hm"/>
<polygon points="151.5,887.49 157,876.69 146,876.69" class="hm"/>
<polygon points="104.39,920.47 109.89,909.67 98.89,909.67" class="hm"/>
<polygon points="111.12,920.47 116.62,909.67 105.62,909.67" class="hm"/>
<polygon points="117.84,920.47 123.34,909.67 112.34,909.67" class="hm"/>
<polygon points="124.58,920.47 130.07,909.67 119.08,909.67" class="hm"/>
<polygon points="131.31,920.47 136.81,909.67 125.81,909.67" class="hm"/>
<polygon points="138.03,920.47 143.53,909.67 132.53,909.67" class="hm"/>
<polygon points="144.77,920.47 150.27,909.67 139.27,909.67" class="hm"/>
<polygon points="151.5,920.47 157,909.67 146,909.67" class="hm"/>
<polygon points="158.23,920.47 163.73,909.67 152.73,909.67" class="hm"/>
<polygon points="164.96,920.47 170.46,909.67 159.46,909.67" class="hm"/>
<polygon points="171.69,920.47 177.19,909.67 166.19,909.67" class="hm"/>
<polygon points="178.42,920.47 183.92,909.67 172.92,909.67" class="hm"/>
<polygon points="127.94,953.46 133.44,942.66 122.44,942.66" class="hm"/>
<polygon points="134.67,953.46 140.17,942.66 129.17,942.66" class="hm"/>
<polygon points="141.4,953.46 146.9,942.66 135.9,942.66" class="hm"/>
<polygon points="148.13,953.46 153.63,942.66 142.63,942.66" class="hm"/>
<polygon points="154.86,953.46 160.36,942.66 149.36,942.66" class="hm"/>
<polygon points="124.58,986.44 130.07,975.64 119.08,975.64" class="hm"/>
<polygon points="131.31,986.44 136.81,975.64 125.81,975.64" class="hm"/>
<polygon points="138.03,986.44 143.53,975.64 132.53,975.64" class="hm"/>
<polygon points="144.77,986.44 150.27,975.64 139.27,975.64" class="hm"/>
<polygon points="151.5,986.44 157,975.64 146,975.64" class="hm"/>
<polygon points="158.23,986.44 163.73,975.64 152.73,975.64" class="hm"/>
<polygon points="270.1,855.35 276.1,843.05 264.1,843.05" class="fm"/>
<polygon points="266,888.34 272,876.04 260,876.04" class="fm"/>
<polygon points="274.2,888.34 280.2,876.04 268.2,876.04" class="fm"/>
<polygon points="245.5,921.32 251.5,909.02 239.5,909.02" class="fm"/>
<polygon points="253.7,921.32 259.7,909.02 247.7,909.02" class="fm"/>
<polygon points="261.9,921.32 267.9,909.02 255.9,909.02" class="fm"/>
<polygon points="270.1,921.32 276.1,909.02 264.1,909.02" class="fm"/>
<polygon points="278.3,921.32 284.3,909.02 272.3,909.02" class="fm"/>
<polygon points="286.5,921.32 292.5,909.02 280.5,909.02" class="fm"/>
<polygon points="294.7,921.32 300.7,909.02 288.7,909.02" class="fm"/>
<polygon points="241.4,954.31 247.4,942.01 235.4,942.01" class="fm"/>
<polygon points="249.6,954.31 255.6,942.01 243.6,942.01" class="fm"/>
<polygon points="257.8,954.31 263.8,942.01 251.8,942.01" class="fm"/>
<polygon points="266,954.31 272,942.01 260,942.01" class="fm"/>
<polygon points="274.2,954.31 280.2,942.01 268.2,942.01" class="fm"/>
<polygon points="282.4,954.31 288.4,942.01 276.4,942.01" class="fm"/>
<polygon points="290.6,954.31 296.6,942.01 284.6,942.01" class="fm"/>
<polygon points="298.8,954.31 304.8,942.01 292.8,942.01" class="fm"/>
<polygon points="233.2,987.29 239.2,974.99 227.2,974.99" class="fm"/>
<polygon points="241.4,987.29 247.4,974.99 235.4,974.99" class="fm"/>
<polygon points="249.6,987.29 255.6,974.99 243.6,974.99" class="fm"/>
<polygon points="257.8,987.29 263.8,974.99 251.8,974.99" class="fm"/>
<polygon points="266,987.29 272,974.99 260,974.99" class="fm"/>
<polygon points="274.2,987.29 280.2,974.99 268.2,974.99" class="fm"/>
<polygon points="282.4,987.29 288.4,974.99 276.4,974.99" class="fm"/>
<polygon points="290.6,987.29 296.6,974.99 284.6,974.99" class="fm"/>
<polygon points="298.8,987.29 304.8,974.99 292.8,974.99" class="fm"/>
<polygon points="307,987.29 313,974.99 301,974.99" class="fm"/>
<polygon points="253.7,1020.28 259.7,1007.98 247.7,1007.98" class="fm"/>
<polygon points="261.9,1020.28 267.9,1007.98 255.9,1007.98" class="fm"/>
<polygon points="270.1,1020.28 276.1,1007.98 264.1,1007.98" class="fm"/>
<polygon points="278.3,1020.28 284.3,1007.98 272.3,1007.98" class="fm"/>
<polygon points="286.5,1020.28 292.5,1007.98 280.5,1007.98" class="fm"/>
<path class="br" d="M143 828.2H274 M143 823V833.2 M274 823V833.2"/>
<text class="pv" text-anchor="middle" x="208.7" y="819.6"><tspan font-style="italic">p</tspan> = 0.012</text>
<text class="pl" x="23" y="819">E1</text></g>
<g><path class="ax" d="M499.4 835.6V1069.9 M489.6 1068.6H942.7"/>
<text class="tk" text-anchor="end" x="487" y="1076">0</text>
<text class="tk" text-anchor="end" x="487" y="1029.66">20</text>
<text class="tk" text-anchor="end" x="487" y="983.32">40</text>
<text class="tk" text-anchor="end" x="487" y="936.98">60</text>
<text class="tk" text-anchor="end" x="487" y="890.64">80</text>
<text class="tk" text-anchor="end" x="487" y="844.3">100</text>
<text class="tk" text-anchor="middle" x="536.2" y="1100.1">1</text>
<text class="tk" text-anchor="middle" x="609.8" y="1100.1">2</text>
<text class="tk" text-anchor="middle" x="683.4" y="1100.1">3</text>
<text class="tk" text-anchor="middle" x="757" y="1100.1">4</text>
<text class="tk" text-anchor="middle" x="830.6" y="1100.1">5</text>
<text class="tk" text-anchor="middle" x="904.2" y="1100.1">6</text>
<path class="tick" d="M489.6 1022.26H499.4M489.6 975.92H499.4M489.6 929.58H499.4M489.6 883.24H499.4M489.6 836.9H499.4M536.2 1068.6V1078.7M609.8 1068.6V1078.7M683.4 1068.6V1078.7M757 1068.6V1078.7M830.6 1068.6V1078.7M904.2 1068.6V1078.7"/>
<text class="at" text-anchor="middle" x="721" y="1134.1">Days of treatment</text>
<text class="at2" text-anchor="middle" transform="translate(437.3 949.25) rotate(-90)">% asymptomatic patients</text>
<polyline class="dl" points="536.2,1068.6 609.8,1068.6 683.4,1017.63 757,975.92 830.6,876.29 904.2,846.17"/>
<polyline class="sl" points="536.2,1068.6 609.8,1033.85 683.4,962.02 757,906.41 830.6,857.75 904.2,843.85"/>
<polygon points="536.2,1074.3 541.7,1063.5 530.7,1063.5" class="hm"/>
<polygon points="609.8,1074.3 615.3,1063.5 604.3,1063.5" class="hm"/>
<polygon points="683.4,1023.33 688.9,1012.53 677.9,1012.53" class="hm"/>
<polygon points="757,981.62 762.5,970.82 751.5,970.82" class="hm"/>
<polygon points="830.6,881.99 836.1,871.19 825.1,871.19" class="hm"/>
<polygon points="904.2,851.87 909.7,841.07 898.7,841.07" class="hm"/>
<polygon points="536.2,1075.15 542.2,1062.85 530.2,1062.85" class="fm"/>
<polygon points="609.8,1040.39 615.8,1028.1 603.8,1028.1" class="fm"/>
<polygon points="683.4,968.57 689.4,956.27 677.4,956.27" class="fm"/>
<polygon points="757,912.96 763,900.66 751,900.66" class="fm"/>
<polygon points="830.6,864.3 836.6,852 824.6,852" class="fm"/>
<polygon points="904.2,850.4 910.2,838.1 898.2,838.1" class="fm"/>
<path class="dl" d="M837 1004.9H862"/>
<path class="sl" d="M837 1036.7H862"/>
<polygon points="849.5,1010.6 855,999.8 844,999.8" class="hm"/>
<polygon points="849.5,1043.25 855.5,1030.95 843.5,1030.95" class="fm"/>
<text class="lb" x="875.7" y="1013">Control</text>
<text class="lb" letter-spacing="-0.7" x="875" y="1044.8">Navax</text>
<text class="pl" x="385" y="824.5">E2</text></g>
<text class="tt" text-anchor="middle" transform="translate(1432.5 795) scale(1.038 1)">Fast pulse</text>
<g><path class="ax" d="M1133.8 847.5V1080.7 M1124 1079.4H1434.8"/>
<text class="tk" text-anchor="end" x="1121.4" y="1086.8">0</text>
<text class="tk" text-anchor="end" x="1121.4" y="1040.68">1</text>
<text class="tk" text-anchor="end" x="1121.4" y="994.56">2</text>
<text class="tk" text-anchor="end" x="1121.4" y="948.44">3</text>
<text class="tk" text-anchor="end" x="1121.4" y="902.32">4</text>
<text class="tk" text-anchor="end" x="1121.4" y="856.2">5</text>
<path class="tick" d="M1124 1033.28H1133.8M1124 987.16H1133.8M1124 941.04H1133.8M1124 894.92H1133.8M1124 848.8H1133.8"/>
<path class="tick" d="M1219.1 1079.4V1089 M1348 1079.4V1089"/>
<text class="cl" text-anchor="middle" x="1215.8" y="1111.5">Control</text>
<text class="cl" text-anchor="middle" x="1342" y="1111.5">Navax</text>
<text class="at" text-anchor="middle" transform="translate(1098 960.3) rotate(-90)">Days of treatment</text>
<path class="med" d="M1165.4 894.92H1272.8"/>
<path class="med" d="M1294.3 941.04H1401.7"/>
<polygon points="1176.96,894.92 1179.96,889.72 1185.96,889.72 1188.96,894.92 1185.96,900.12 1179.96,900.12" class="hx2"/>
<polygon points="1179.74,894.92 1182.74,889.72 1188.74,889.72 1191.74,894.92 1188.74,900.12 1182.74,900.12" class="hx2"/>
<polygon points="1182.52,894.92 1185.52,889.72 1191.52,889.72 1194.52,894.92 1191.52,900.12 1185.52,900.12" class="hx2"/>
<polygon points="1185.3,894.92 1188.3,889.72 1194.3,889.72 1197.3,894.92 1194.3,900.12 1188.3,900.12" class="hx2"/>
<polygon points="1188.08,894.92 1191.08,889.72 1197.08,889.72 1200.08,894.92 1197.08,900.12 1191.08,900.12" class="hx2"/>
<polygon points="1190.86,894.92 1193.86,889.72 1199.86,889.72 1202.86,894.92 1199.86,900.12 1193.86,900.12" class="hx2"/>
<polygon points="1193.64,894.92 1196.64,889.72 1202.64,889.72 1205.64,894.92 1202.64,900.12 1196.64,900.12" class="hx2"/>
<polygon points="1196.42,894.92 1199.42,889.72 1205.42,889.72 1208.42,894.92 1205.42,900.12 1199.42,900.12" class="hx2"/>
<polygon points="1199.2,894.92 1202.2,889.72 1208.2,889.72 1211.2,894.92 1208.2,900.12 1202.2,900.12" class="hx2"/>
<polygon points="1201.98,894.92 1204.98,889.72 1210.98,889.72 1213.98,894.92 1210.98,900.12 1204.98,900.12" class="hx2"/>
<polygon points="1204.76,894.92 1207.76,889.72 1213.76,889.72 1216.76,894.92 1213.76,900.12 1207.76,900.12" class="hx2"/>
<polygon points="1207.54,894.92 1210.54,889.72 1216.54,889.72 1219.54,894.92 1216.54,900.12 1210.54,900.12" class="hx2"/>
<polygon points="1210.32,894.92 1213.32,889.72 1219.32,889.72 1222.32,894.92 1219.32,900.12 1213.32,900.12" class="hx2"/>
<polygon points="1213.1,894.92 1216.1,889.72 1222.1,889.72 1225.1,894.92 1222.1,900.12 1216.1,900.12" class="hx2"/>
<polygon points="1215.88,894.92 1218.88,889.72 1224.88,889.72 1227.88,894.92 1224.88,900.12 1218.88,900.12" class="hx2"/>
<polygon points="1218.66,894.92 1221.66,889.72 1227.66,889.72 1230.66,894.92 1227.66,900.12 1221.66,900.12" class="hx2"/>
<polygon points="1221.44,894.92 1224.44,889.72 1230.44,889.72 1233.44,894.92 1230.44,900.12 1224.44,900.12" class="hx2"/>
<polygon points="1224.22,894.92 1227.22,889.72 1233.22,889.72 1236.22,894.92 1233.22,900.12 1227.22,900.12" class="hx2"/>
<polygon points="1227,894.92 1230,889.72 1236,889.72 1239,894.92 1236,900.12 1230,900.12" class="hx2"/>
<polygon points="1229.78,894.92 1232.78,889.72 1238.78,889.72 1241.78,894.92 1238.78,900.12 1232.78,900.12" class="hx2"/>
<polygon points="1232.56,894.92 1235.56,889.72 1241.56,889.72 1244.56,894.92 1241.56,900.12 1235.56,900.12" class="hx2"/>
<polygon points="1235.34,894.92 1238.34,889.72 1244.34,889.72 1247.34,894.92 1244.34,900.12 1238.34,900.12" class="hx2"/>
<polygon points="1238.12,894.92 1241.12,889.72 1247.12,889.72 1250.12,894.92 1247.12,900.12 1241.12,900.12" class="hx2"/>
<polygon points="1240.9,894.92 1243.9,889.72 1249.9,889.72 1252.9,894.92 1249.9,900.12 1243.9,900.12" class="hx2"/>
<polygon points="1243.68,894.92 1246.68,889.72 1252.68,889.72 1255.68,894.92 1252.68,900.12 1246.68,900.12" class="hx2"/>
<polygon points="1246.46,894.92 1249.46,889.72 1255.46,889.72 1258.46,894.92 1255.46,900.12 1249.46,900.12" class="hx2"/>
<polygon points="1249.24,894.92 1252.24,889.72 1258.24,889.72 1261.24,894.92 1258.24,900.12 1252.24,900.12" class="hx2"/>
<polygon points="1176.96,894.92 1179.96,889.72 1258.24,889.72 1261.24,894.92 1258.24,900.12 1179.96,900.12" class="hx"/>
<polygon points="1193.15,941.04 1196.15,935.84 1202.15,935.84 1205.15,941.04 1202.15,946.24 1196.15,946.24" class="hx"/>
<polygon points="1198.85,941.04 1201.85,935.84 1207.85,935.84 1210.85,941.04 1207.85,946.24 1201.85,946.24" class="hx"/>
<polygon points="1204.55,941.04 1207.55,935.84 1213.55,935.84 1216.55,941.04 1213.55,946.24 1207.55,946.24" class="hx"/>
<polygon points="1210.25,941.04 1213.25,935.84 1219.25,935.84 1222.25,941.04 1219.25,946.24 1213.25,946.24" class="hx"/>
<polygon points="1215.95,941.04 1218.95,935.84 1224.95,935.84 1227.95,941.04 1224.95,946.24 1218.95,946.24" class="hx"/>
<polygon points="1221.65,941.04 1224.65,935.84 1230.65,935.84 1233.65,941.04 1230.65,946.24 1224.65,946.24" class="hx"/>
<polygon points="1227.35,941.04 1230.35,935.84 1236.35,935.84 1239.35,941.04 1236.35,946.24 1230.35,946.24" class="hx"/>
<polygon points="1233.05,941.04 1236.05,935.84 1242.05,935.84 1245.05,941.04 1242.05,946.24 1236.05,946.24" class="hx"/>
<polygon points="1207.4,987.16 1210.4,981.96 1216.4,981.96 1219.4,987.16 1216.4,992.36 1210.4,992.36" class="hx"/>
<polygon points="1213.1,987.16 1216.1,981.96 1222.1,981.96 1225.1,987.16 1222.1,992.36 1216.1,992.36" class="hx"/>
<polygon points="1218.8,987.16 1221.8,981.96 1227.8,981.96 1230.8,987.16 1227.8,992.36 1221.8,992.36" class="hx"/>
<polygon points="1330.75,894.92 1333.75,889.72 1339.75,889.72 1342.75,894.92 1339.75,900.12 1333.75,900.12" class="fm"/>
<polygon points="1334.5,894.92 1337.5,889.72 1343.5,889.72 1346.5,894.92 1343.5,900.12 1337.5,900.12" class="fm"/>
<polygon points="1338.25,894.92 1341.25,889.72 1347.25,889.72 1350.25,894.92 1347.25,900.12 1341.25,900.12" class="fm"/>
<polygon points="1342,894.92 1345,889.72 1351,889.72 1354,894.92 1351,900.12 1345,900.12" class="fm"/>
<polygon points="1345.75,894.92 1348.75,889.72 1354.75,889.72 1357.75,894.92 1354.75,900.12 1348.75,900.12" class="fm"/>
<polygon points="1349.5,894.92 1352.5,889.72 1358.5,889.72 1361.5,894.92 1358.5,900.12 1352.5,900.12" class="fm"/>
<polygon points="1353.25,894.92 1356.25,889.72 1362.25,889.72 1365.25,894.92 1362.25,900.12 1356.25,900.12" class="fm"/>
<polygon points="1305.37,941.04 1308.37,935.84 1314.37,935.84 1317.37,941.04 1314.37,946.24 1308.37,946.24" class="fm"/>
<polygon points="1309.44,941.04 1312.44,935.84 1318.44,935.84 1321.44,941.04 1318.44,946.24 1312.44,946.24" class="fm"/>
<polygon points="1313.51,941.04 1316.51,935.84 1322.51,935.84 1325.51,941.04 1322.51,946.24 1316.51,946.24" class="fm"/>
<polygon points="1317.58,941.04 1320.58,935.84 1326.58,935.84 1329.58,941.04 1326.58,946.24 1320.58,946.24" class="fm"/>
<polygon points="1321.65,941.04 1324.65,935.84 1330.65,935.84 1333.65,941.04 1330.65,946.24 1324.65,946.24" class="fm"/>
<polygon points="1325.72,941.04 1328.72,935.84 1334.72,935.84 1337.72,941.04 1334.72,946.24 1328.72,946.24" class="fm"/>
<polygon points="1329.79,941.04 1332.79,935.84 1338.79,935.84 1341.79,941.04 1338.79,946.24 1332.79,946.24" class="fm"/>
<polygon points="1333.86,941.04 1336.86,935.84 1342.86,935.84 1345.86,941.04 1342.86,946.24 1336.86,946.24" class="fm"/>
<polygon points="1337.93,941.04 1340.93,935.84 1346.93,935.84 1349.93,941.04 1346.93,946.24 1340.93,946.24" class="fm"/>
<polygon points="1342,941.04 1345,935.84 1351,935.84 1354,941.04 1351,946.24 1345,946.24" class="fm"/>
<polygon points="1346.07,941.04 1349.07,935.84 1355.07,935.84 1358.07,941.04 1355.07,946.24 1349.07,946.24" class="fm"/>
<polygon points="1350.14,941.04 1353.14,935.84 1359.14,935.84 1362.14,941.04 1359.14,946.24 1353.14,946.24" class="fm"/>
<polygon points="1354.21,941.04 1357.21,935.84 1363.21,935.84 1366.21,941.04 1363.21,946.24 1357.21,946.24" class="fm"/>
<polygon points="1358.28,941.04 1361.28,935.84 1367.28,935.84 1370.28,941.04 1367.28,946.24 1361.28,946.24" class="fm"/>
<polygon points="1362.35,941.04 1365.35,935.84 1371.35,935.84 1374.35,941.04 1371.35,946.24 1365.35,946.24" class="fm"/>
<polygon points="1366.42,941.04 1369.42,935.84 1375.42,935.84 1378.42,941.04 1375.42,946.24 1369.42,946.24" class="fm"/>
<polygon points="1370.49,941.04 1373.49,935.84 1379.49,935.84 1382.49,941.04 1379.49,946.24 1373.49,946.24" class="fm"/>
<polygon points="1374.56,941.04 1377.56,935.84 1383.56,935.84 1386.56,941.04 1383.56,946.24 1377.56,946.24" class="fm"/>
<polygon points="1378.63,941.04 1381.63,935.84 1387.63,935.84 1390.63,941.04 1387.63,946.24 1381.63,946.24" class="fm"/>
<polygon points="1304.92,987.16 1307.92,981.96 1313.92,981.96 1316.92,987.16 1313.92,992.36 1307.92,992.36" class="fm"/>
<polygon points="1309.04,987.16 1312.04,981.96 1318.04,981.96 1321.04,987.16 1318.04,992.36 1312.04,992.36" class="fm"/>
<polygon points="1313.16,987.16 1316.16,981.96 1322.16,981.96 1325.16,987.16 1322.16,992.36 1316.16,992.36" class="fm"/>
<polygon points="1317.28,987.16 1320.28,981.96 1326.28,981.96 1329.28,987.16 1326.28,992.36 1320.28,992.36" class="fm"/>
<polygon points="1321.4,987.16 1324.4,981.96 1330.4,981.96 1333.4,987.16 1330.4,992.36 1324.4,992.36" class="fm"/>
<polygon points="1325.52,987.16 1328.52,981.96 1334.52,981.96 1337.52,987.16 1334.52,992.36 1328.52,992.36" class="fm"/>
<polygon points="1329.64,987.16 1332.64,981.96 1338.64,981.96 1341.64,987.16 1338.64,992.36 1332.64,992.36" class="fm"/>
<polygon points="1333.76,987.16 1336.76,981.96 1342.76,981.96 1345.76,987.16 1342.76,992.36 1336.76,992.36" class="fm"/>
<polygon points="1337.88,987.16 1340.88,981.96 1346.88,981.96 1349.88,987.16 1346.88,992.36 1340.88,992.36" class="fm"/>
<polygon points="1342,987.16 1345,981.96 1351,981.96 1354,987.16 1351,992.36 1345,992.36" class="fm"/>
<polygon points="1346.12,987.16 1349.12,981.96 1355.12,981.96 1358.12,987.16 1355.12,992.36 1349.12,992.36" class="fm"/>
<polygon points="1350.24,987.16 1353.24,981.96 1359.24,981.96 1362.24,987.16 1359.24,992.36 1353.24,992.36" class="fm"/>
<polygon points="1354.36,987.16 1357.36,981.96 1363.36,981.96 1366.36,987.16 1363.36,992.36 1357.36,992.36" class="fm"/>
<polygon points="1358.48,987.16 1361.48,981.96 1367.48,981.96 1370.48,987.16 1367.48,992.36 1361.48,992.36" class="fm"/>
<polygon points="1362.6,987.16 1365.6,981.96 1371.6,981.96 1374.6,987.16 1371.6,992.36 1365.6,992.36" class="fm"/>
<polygon points="1366.72,987.16 1369.72,981.96 1375.72,981.96 1378.72,987.16 1375.72,992.36 1369.72,992.36" class="fm"/>
<polygon points="1370.84,987.16 1373.84,981.96 1379.84,981.96 1382.84,987.16 1379.84,992.36 1373.84,992.36" class="fm"/>
<polygon points="1374.96,987.16 1377.96,981.96 1383.96,981.96 1386.96,987.16 1383.96,992.36 1377.96,992.36" class="fm"/>
<polygon points="1379.08,987.16 1382.08,981.96 1388.08,981.96 1391.08,987.16 1388.08,992.36 1382.08,992.36" class="fm"/>
<path class="br" d="M1219 866H1349.3 M1219 860.8V871 M1349.3 860.8V871"/>
<text class="pv" text-anchor="middle" x="1283" y="858.8"><tspan font-style="italic">p</tspan> &lt;0.0001</text>
<text class="pl" x="1098" y="828.5">F1</text></g>
<g><path class="ax" d="M1563.3 844V1078.3 M1553.5 1077H2008"/>
<text class="tk" text-anchor="end" x="1550.9" y="1084.4">0</text>
<text class="tk" text-anchor="end" x="1550.9" y="1038.06">20</text>
<text class="tk" text-anchor="end" x="1550.9" y="991.72">40</text>
<text class="tk" text-anchor="end" x="1550.9" y="945.38">60</text>
<text class="tk" text-anchor="end" x="1550.9" y="899.04">80</text>
<text class="tk" text-anchor="end" x="1550.9" y="852.7">100</text>
<text class="tk" text-anchor="middle" x="1599.5" y="1108.5">1</text>
<text class="tk" text-anchor="middle" x="1673.1" y="1108.5">2</text>
<text class="tk" text-anchor="middle" x="1746.7" y="1108.5">3</text>
<text class="tk" text-anchor="middle" x="1820.3" y="1108.5">4</text>
<text class="tk" text-anchor="middle" x="1893.9" y="1108.5">5</text>
<text class="tk" text-anchor="middle" x="1967.5" y="1108.5">6</text>
<path class="tick" d="M1553.5 1030.66H1563.3M1553.5 984.32H1563.3M1553.5 937.98H1563.3M1553.5 891.64H1563.3M1553.5 845.3H1563.3M1599.5 1077V1087.1M1673.1 1077V1087.1M1746.7 1077V1087.1M1820.3 1077V1087.1M1893.9 1077V1087.1M1967.5 1077V1087.1"/>
<text class="at" text-anchor="middle" x="1784" y="1142.5">Days of treatment</text>
<text class="at2" text-anchor="middle" transform="translate(1502 957.65) rotate(-90)">% asymptomatic patients</text>
<polyline class="dl" points="1599.5,1077 1673.1,1067.73 1746.7,990.11 1820.3,845.3 1893.9,845.3 1967.5,845.3"/>
<polyline class="sl" points="1599.5,1077 1673.1,979.69 1746.7,881.21 1820.3,845.3 1893.9,845.3 1967.5,845.3"/>
<polygon points="1593.5,1077 1596.5,1071.8 1602.5,1071.8 1605.5,1077 1602.5,1082.2 1596.5,1082.2" class="hx"/>
<polygon points="1667.1,1067.73 1670.1,1062.54 1676.1,1062.54 1679.1,1067.73 1676.1,1072.93 1670.1,1072.93" class="hx"/>
<polygon points="1740.7,990.11 1743.7,984.92 1749.7,984.92 1752.7,990.11 1749.7,995.31 1743.7,995.31" class="hx"/>
<polygon points="1814.3,845.3 1817.3,840.1 1823.3,840.1 1826.3,845.3 1823.3,850.5 1817.3,850.5" class="hx"/>
<polygon points="1887.9,845.3 1890.9,840.1 1896.9,840.1 1899.9,845.3 1896.9,850.5 1890.9,850.5" class="hx"/>
<polygon points="1961.5,845.3 1964.5,840.1 1970.5,840.1 1973.5,845.3 1970.5,850.5 1964.5,850.5" class="hx"/>
<polygon points="1593.5,1077 1596.5,1071.8 1602.5,1071.8 1605.5,1077 1602.5,1082.2 1596.5,1082.2" class="fm"/>
<polygon points="1667.1,979.69 1670.1,974.49 1676.1,974.49 1679.1,979.69 1676.1,984.88 1670.1,984.88" class="fm"/>
<polygon points="1740.7,881.21 1743.7,876.02 1749.7,876.02 1752.7,881.21 1749.7,886.41 1743.7,886.41" class="fm"/>
<polygon points="1814.3,845.3 1817.3,840.1 1823.3,840.1 1826.3,845.3 1823.3,850.5 1817.3,850.5" class="fm"/>
<polygon points="1887.9,845.3 1890.9,840.1 1896.9,840.1 1899.9,845.3 1896.9,850.5 1890.9,850.5" class="fm"/>
<polygon points="1961.5,845.3 1964.5,840.1 1970.5,840.1 1973.5,845.3 1970.5,850.5 1964.5,850.5" class="fm"/>
<path class="dl" d="M1893.7 1009.6H1918.7"/>
<path class="sl" d="M1893.7 1043.5H1918.7"/>
<polygon points="1900.2,1009.6 1903.2,1004.4 1909.2,1004.4 1912.2,1009.6 1909.2,1014.8 1903.2,1014.8" class="hx"/>
<polygon points="1900.2,1043.5 1903.2,1038.3 1909.2,1038.3 1912.2,1043.5 1909.2,1048.7 1903.2,1048.7" class="fm"/>
<text class="lb" x="1933.2" y="1017.7">Control</text>
<text class="lb" letter-spacing="-0.7" x="1932.5" y="1051.6">Navax</text>
<text class="pl" x="1454" y="828.5">F2</text></g>
<text class="tt" text-anchor="middle" transform="translate(957.7 1167.4) scale(1.038 1)">Fast breath</text>
<g><path class="ax" d="M585.3 1212.3V1446.1 M575.5 1444.8H886.5"/>
<text class="tk" text-anchor="end" x="572.9" y="1452.2">0</text>
<text class="tk" text-anchor="end" x="572.9" y="1405.96">1</text>
<text class="tk" text-anchor="end" x="572.9" y="1359.72">2</text>
<text class="tk" text-anchor="end" x="572.9" y="1313.48">3</text>
<text class="tk" text-anchor="end" x="572.9" y="1267.24">4</text>
<text class="tk" text-anchor="end" x="572.9" y="1221">5</text>
<path class="tick" d="M575.5 1398.56H585.3M575.5 1352.32H585.3M575.5 1306.08H585.3M575.5 1259.84H585.3M575.5 1213.6H585.3"/>
<path class="tick" d="M671.3 1444.8V1454.4 M800 1444.8V1454.4"/>
<text class="cl" text-anchor="middle" x="668" y="1476.9">Control</text>
<text class="cl" text-anchor="middle" x="794" y="1476.9">Navax</text>
<text class="at" text-anchor="middle" transform="translate(549 1325.4) rotate(-90)">Days of treatment</text>
<path class="med" d="M617.6 1306.08H725"/>
<path class="med" d="M746.3 1352.32H853.7"/>
<polygon points="661.95,1254.04 667.75,1259.84 661.95,1265.64 656.15,1259.84" class="tm"/><circle cx="661.95" cy="1259.84" r="2" class="fm"/>
<polygon points="680.65,1254.04 686.45,1259.84 680.65,1265.64 674.85,1259.84" class="tm"/><circle cx="680.65" cy="1259.84" r="2" class="fm"/>
<polygon points="634.1,1300.28 639.9,1306.08 634.1,1311.88 628.3,1306.08" class="tm"/><circle cx="634.1" cy="1306.08" r="2" class="fm"/>
<polygon points="652.7,1300.28 658.5,1306.08 652.7,1311.88 646.9,1306.08" class="tm"/><circle cx="652.7" cy="1306.08" r="2" class="fm"/>
<polygon points="671.3,1300.28 677.1,1306.08 671.3,1311.88 665.5,1306.08" class="tm"/><circle cx="671.3" cy="1306.08" r="2" class="fm"/>
<polygon points="689.9,1300.28 695.7,1306.08 689.9,1311.88 684.1,1306.08" class="tm"/><circle cx="689.9" cy="1306.08" r="2" class="fm"/>
<polygon points="708.5,1300.28 714.3,1306.08 708.5,1311.88 702.7,1306.08" class="tm"/><circle cx="708.5" cy="1306.08" r="2" class="fm"/>
<polygon points="634.1,1346.52 639.9,1352.32 634.1,1358.12 628.3,1352.32" class="tm"/><circle cx="634.1" cy="1352.32" r="2" class="fm"/>
<polygon points="652.7,1346.52 658.5,1352.32 652.7,1358.12 646.9,1352.32" class="tm"/><circle cx="652.7" cy="1352.32" r="2" class="fm"/>
<polygon points="671.3,1346.52 677.1,1352.32 671.3,1358.12 665.5,1352.32" class="tm"/><circle cx="671.3" cy="1352.32" r="2" class="fm"/>
<polygon points="689.9,1346.52 695.7,1352.32 689.9,1358.12 684.1,1352.32" class="tm"/><circle cx="689.9" cy="1352.32" r="2" class="fm"/>
<polygon points="708.5,1346.52 714.3,1352.32 708.5,1358.12 702.7,1352.32" class="tm"/><circle cx="708.5" cy="1352.32" r="2" class="fm"/>
<polygon points="775,1299.68 781.4,1306.08 775,1312.48 768.6,1306.08" class="fm"/>
<polygon points="787.5,1299.68 793.9,1306.08 787.5,1312.48 781.1,1306.08" class="fm"/>
<polygon points="800,1299.68 806.4,1306.08 800,1312.48 793.6,1306.08" class="fm"/>
<polygon points="812.5,1299.68 818.9,1306.08 812.5,1312.48 806.1,1306.08" class="fm"/>
<polygon points="825,1299.68 831.4,1306.08 825,1312.48 818.6,1306.08" class="fm"/>
<polygon points="762.5,1345.92 768.9,1352.32 762.5,1358.72 756.1,1352.32" class="fm"/>
<polygon points="775,1345.92 781.4,1352.32 775,1358.72 768.6,1352.32" class="fm"/>
<polygon points="787.5,1345.92 793.9,1352.32 787.5,1358.72 781.1,1352.32" class="fm"/>
<polygon points="800,1345.92 806.4,1352.32 800,1358.72 793.6,1352.32" class="fm"/>
<polygon points="812.5,1345.92 818.9,1352.32 812.5,1358.72 806.1,1352.32" class="fm"/>
<polygon points="825,1345.92 831.4,1352.32 825,1358.72 818.6,1352.32" class="fm"/>
<polygon points="837.5,1345.92 843.9,1352.32 837.5,1358.72 831.1,1352.32" class="fm"/>
<path class="br" d="M670.6 1233.7H800 M670.6 1228.5V1238.7 M800 1228.5V1238.7"/>
<text class="pv" text-anchor="middle" x="736.6" y="1224.8"><tspan font-style="italic">p</tspan> = 0.3515</text>
<text class="pl" x="518.5" y="1203">G1</text></g>
<g><path class="ax" d="M1024.5 1209.1V1443.7 M1014.7 1442.4H1467"/>
<text class="tk" text-anchor="end" x="1012.1" y="1449.8">0</text>
<text class="tk" text-anchor="end" x="1012.1" y="1403.4">20</text>
<text class="tk" text-anchor="end" x="1012.1" y="1357">40</text>
<text class="tk" text-anchor="end" x="1012.1" y="1310.6">60</text>
<text class="tk" text-anchor="end" x="1012.1" y="1264.2">80</text>
<text class="tk" text-anchor="end" x="1012.1" y="1217.8">100</text>
<text class="tk" text-anchor="middle" x="1060.8" y="1473.9">1</text>
<text class="tk" text-anchor="middle" x="1134.44" y="1473.9">2</text>
<text class="tk" text-anchor="middle" x="1208.08" y="1473.9">3</text>
<text class="tk" text-anchor="middle" x="1281.72" y="1473.9">4</text>
<text class="tk" text-anchor="middle" x="1355.36" y="1473.9">5</text>
<text class="tk" text-anchor="middle" x="1429" y="1473.9">6</text>
<path class="tick" d="M1014.7 1396H1024.5M1014.7 1349.6H1024.5M1014.7 1303.2H1024.5M1014.7 1256.8H1024.5M1014.7 1210.4H1024.5M1060.8 1442.4V1452.5M1134.44 1442.4V1452.5M1208.08 1442.4V1452.5M1281.72 1442.4V1452.5M1355.36 1442.4V1452.5M1429 1442.4V1452.5"/>
<text class="at" text-anchor="middle" x="1245.5" y="1507.9">Days of treatment</text>
<text class="at2" text-anchor="middle" transform="translate(964 1322.9) rotate(-90)">% asymptomatic patients</text>
<polyline class="dl" points="1060.8,1442.4 1134.44,1336.84 1208.08,1252.16 1281.72,1210.4 1355.36,1210.4 1429,1210.4"/>
<polyline class="sl" points="1060.8,1442.4 1134.44,1306.68 1208.08,1210.4 1281.72,1210.4 1355.36,1210.4 1429,1210.4"/>
<polygon points="1060.8,1436.6 1066.6,1442.4 1060.8,1448.2 1055,1442.4" class="tm"/><circle cx="1060.8" cy="1442.4" r="2" class="fm"/>
<polygon points="1134.44,1331.04 1140.24,1336.84 1134.44,1342.64 1128.64,1336.84" class="tm"/><circle cx="1134.44" cy="1336.84" r="2" class="fm"/>
<polygon points="1208.08,1246.36 1213.88,1252.16 1208.08,1257.96 1202.28,1252.16" class="tm"/><circle cx="1208.08" cy="1252.16" r="2" class="fm"/>
<polygon points="1281.72,1204.6 1287.52,1210.4 1281.72,1216.2 1275.92,1210.4" class="tm"/><circle cx="1281.72" cy="1210.4" r="2" class="fm"/>
<polygon points="1355.36,1204.6 1361.16,1210.4 1355.36,1216.2 1349.56,1210.4" class="tm"/><circle cx="1355.36" cy="1210.4" r="2" class="fm"/>
<polygon points="1429,1204.6 1434.8,1210.4 1429,1216.2 1423.2,1210.4" class="tm"/><circle cx="1429" cy="1210.4" r="2" class="fm"/>
<polygon points="1060.8,1436 1067.2,1442.4 1060.8,1448.8 1054.4,1442.4" class="fm"/>
<polygon points="1134.44,1300.28 1140.84,1306.68 1134.44,1313.08 1128.04,1306.68" class="fm"/>
<polygon points="1208.08,1204 1214.48,1210.4 1208.08,1216.8 1201.68,1210.4" class="fm"/>
<polygon points="1281.72,1204 1288.12,1210.4 1281.72,1216.8 1275.32,1210.4" class="fm"/>
<polygon points="1355.36,1204 1361.76,1210.4 1355.36,1216.8 1348.96,1210.4" class="fm"/>
<polygon points="1429,1204 1435.4,1210.4 1429,1216.8 1422.6,1210.4" class="fm"/>
<path class="dl" d="M1357.9 1377.7H1382.9"/>
<path class="sl" d="M1357.9 1411.8H1382.9"/>
<polygon points="1370.4,1371.9 1376.2,1377.7 1370.4,1383.5 1364.6,1377.7" class="tm"/><circle cx="1370.4" cy="1377.7" r="2" class="fm"/>
<polygon points="1370.4,1405.4 1376.8,1411.8 1370.4,1418.2 1364,1411.8" class="fm"/>
<text class="lb" x="1397" y="1385.8">Control</text>
<text class="lb" letter-spacing="-0.7" x="1396.3" y="1419.9">Navax</text>
<text class="pl" x="901.5" y="1204.7">G2</text></g>
</svg>
</body></html>
